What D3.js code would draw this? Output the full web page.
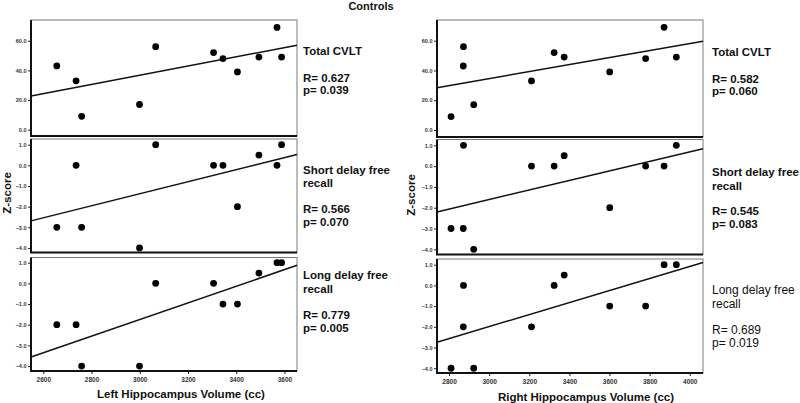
<!DOCTYPE html>
<html>
<head>
<meta charset="utf-8">
<script src="https://cdn.jsdelivr.net/npm/d3@7"></script>
<style>
  html, body { margin: 0; padding: 0; background: #fff; }
  svg { display: block; font-family: "Liberation Sans", Arial, sans-serif; }
</style>
</head>
<body>
<svg id="chart" width="800" height="403"></svg>
<script>
// ---------------- data ----------------
const title = "Controls";
const yAxisLabel = "Z-score";
const leftXLabel = "Left Hippocampus Volume (cc)";
const rightXLabel = "Right Hippocampus Volume (cc)";

const leftVolume  = [2656, 2736, 2759, 2999, 3066, 3306, 3345, 3405, 3494, 3569, 3588];
const leftTotal   = [43, 33, 9, 17, 56, 52, 48, 39, 49, 69, 49];
const leftShort   = [-3, 0, -3, -4, 1, 0, 0, -2, 0.5, 0, 1];
const leftLong    = [-2, -2, -4, -4, 0, 0, -1, -1, 0.5, 1, 1];

const rightVolume = [2810, 2871, 2872, 2923, 3211, 3324, 3374, 3601, 3780, 3872, 3933];
const rightTotal  = [9, 43, 56, 17, 33, 52, 49, 39, 48, 69, 49];
const rightShort  = [-3, -3, 1, -4, 0, 0, 0.5, -2, 0, 0, 1];
const rightLong   = [-4, -2, 0, -4, -2, 0, 0.5, -1, -1, 1, 1];

const measureNames = [["Total CVLT"], ["Short delay free", "recall"], ["Long delay free", "recall"]];
const leftStats  = [["R= 0.627", "p= 0.039"], ["R= 0.566", "p= 0.070"], ["R= 0.779", "p= 0.005"]];
const rightStats = [["R= 0.582", "p= 0.060"], ["R= 0.545", "p= 0.083"], ["R= 0.689", "p= 0.019"]];

const xTicksLeft  = [2600, 2800, 3000, 3200, 3400, 3600];
const xTicksRight = [2800, 3000, 3200, 3400, 3600, 3800, 4000];
const yTicksTotal = [0, 20, 40, 60];
const yTicksZ     = [-4, -3, -2, -1, 0, 1];

// ---------------- layout ----------------
const svg = d3.select("#chart");
const fmtY = d3.format(".1f");

const sides = [
  {
    x0: 31, x1: 297, xDomain: [2549, 3652], xTicks: xTicksLeft, vol: leftVolume,
    series: [leftTotal, leftShort, leftLong], stats: leftStats, textX: 303,
    panels: [
      { top: 20, bottom: 136, dom: [-4.25, 74.0], ticks: yTicksTotal, name: [55], stat: [82, 94], bold: true },
      { top: 139, bottom: 252.5, dom: [-4.22, 1.276], ticks: yTicksZ, name: [173.5, 187], stat: [213, 226], bold: true },
      { top: 257.5, bottom: 371, dom: [-4.24, 1.252], ticks: yTicksZ, name: [279, 292.5], stat: [319, 332], bold: true }
    ],
    xLabel: leftXLabel, xLabelX: 181, xLabelY: 397.5, zX: 11, zY: 193
  },
  {
    x0: 437, x1: 703, xDomain: [2740, 4066], xTicks: xTicksRight, vol: rightVolume,
    series: [rightTotal, rightShort, rightLong], stats: rightStats, textX: 712,
    panels: [
      { top: 20, bottom: 137, dom: [-4.7, 73.9], ticks: yTicksTotal, name: [56], stat: [83, 95], bold: true },
      { top: 139.5, bottom: 254.5, dom: [-4.25, 1.28], ticks: yTicksZ, name: [176, 189.5], stat: [214.5, 227.5], bold: true },
      { top: 259, bottom: 373, dom: [-4.23, 1.275], ticks: yTicksZ, name: [294, 307.5], stat: [334, 347], bold: false }
    ],
    xLabel: rightXLabel, xLabelX: 586, xLabelY: 400.5, zX: 415, zY: 195
  }
];

// title
svg.append("text").attr("x", 371).attr("y", 9.5).attr("text-anchor", "middle")
  .attr("font-size", 11).attr("font-weight", "bold").attr("fill", "#111").text(title);

function fitLine(xs, ys) {
  const mx = d3.mean(xs), my = d3.mean(ys);
  let sxy = 0, sxx = 0;
  xs.forEach((x, i) => { sxy += (x - mx) * (ys[i] - my); sxx += (x - mx) * (x - mx); });
  const b = sxy / sxx;
  return x => my + b * (x - mx);
}

sides.forEach(side => {
  const x = d3.scaleLinear().domain(side.xDomain).range([side.x0, side.x1]);
  side.panels.forEach((p, pi) => {
    const y = d3.scaleLinear().domain(p.dom).range([p.bottom, p.top]);
    const g = svg.append("g");
    // frame: top & right thin grey
    g.append("rect").attr("x", side.x0).attr("y", p.top)
      .attr("width", side.x1 - side.x0).attr("height", p.bottom - p.top)
      .attr("fill", "#fff").attr("stroke", "#7a7a7a").attr("stroke-width", 1);

    // y axis
    const yAxis = d3.axisLeft(y).tickValues(p.ticks).tickFormat(fmtY).tickSize(3).tickPadding(1.5);
    const ya = g.append("g").attr("transform", `translate(${side.x0},0)`).call(yAxis);
    ya.select(".domain").remove();
    ya.selectAll("line").attr("stroke", "#222").attr("stroke-width", 1);
    ya.selectAll("text").attr("font-size", 5.5).attr("font-weight", "bold").attr("fill", "#333")
      .attr("font-family", "'Liberation Sans', Arial, sans-serif");

    // x axis (bottom panel only gets labels)
    const isBottom = pi === 2;
    if (isBottom) {
      const xAxis = d3.axisBottom(x).tickValues(side.xTicks).tickFormat(d3.format("d")).tickSize(3).tickPadding(3);
      const xa = g.append("g").attr("transform", `translate(0,${p.bottom})`).call(xAxis);
      xa.select(".domain").remove();
      xa.selectAll("line").attr("stroke", "#222").attr("stroke-width", 1);
      xa.selectAll("text").attr("font-size", 6.5).attr("font-weight", "bold").attr("fill", "#333")
        .attr("font-family", "'Liberation Sans', Arial, sans-serif");
    }
    // thick left & bottom axis lines
    g.append("path")
      .attr("d", `M${side.x0},${p.top}V${p.bottom}H${side.x1}`)
      .attr("fill", "none").attr("stroke", "#111").attr("stroke-width", 2);

    // fit line
    const ys = side.series[pi];
    const f = fitLine(side.vol, ys);
    g.append("line")
      .attr("x1", x(side.xDomain[0])).attr("y1", y(f(side.xDomain[0])))
      .attr("x2", x(side.xDomain[1])).attr("y2", y(f(side.xDomain[1])))
      .attr("stroke", "#111").attr("stroke-width", 1.5);

    // points
    g.selectAll("circle").data(side.vol.map((v, i) => [v, ys[i]])).join("circle")
      .attr("cx", d => x(d[0])).attr("cy", d => y(d[1])).attr("r", 3.4).attr("fill", "#000");

    // labels
    const weight = p.bold ? "bold" : "normal";
    const fs = p.bold ? 11.5 : 12;
    measureNames[pi].forEach((t, k) => {
      svg.append("text").attr("x", side.textX).attr("y", p.name[k])
        .attr("font-size", fs).attr("font-weight", weight).attr("fill", "#111").text(t);
    });
    side.stats[pi].forEach((t, k) => {
      svg.append("text").attr("x", side.textX).attr("y", p.stat[k])
        .attr("font-size", fs).attr("font-weight", weight).attr("fill", "#111").text(t);
    });
  });

  // x label
  svg.append("text").attr("x", side.xLabelX).attr("y", side.xLabelY).attr("text-anchor", "middle")
    .attr("font-size", 11.5).attr("font-weight", "bold").attr("fill", "#111").text(side.xLabel);
  // y label
  svg.append("text").attr("transform", `translate(${side.zX},${side.zY}) rotate(-90)`)
    .attr("text-anchor", "middle").attr("font-size", 11.5).attr("font-weight", "bold")
    .attr("fill", "#111").text(yAxisLabel);
});
</script>
</body>
</html>
